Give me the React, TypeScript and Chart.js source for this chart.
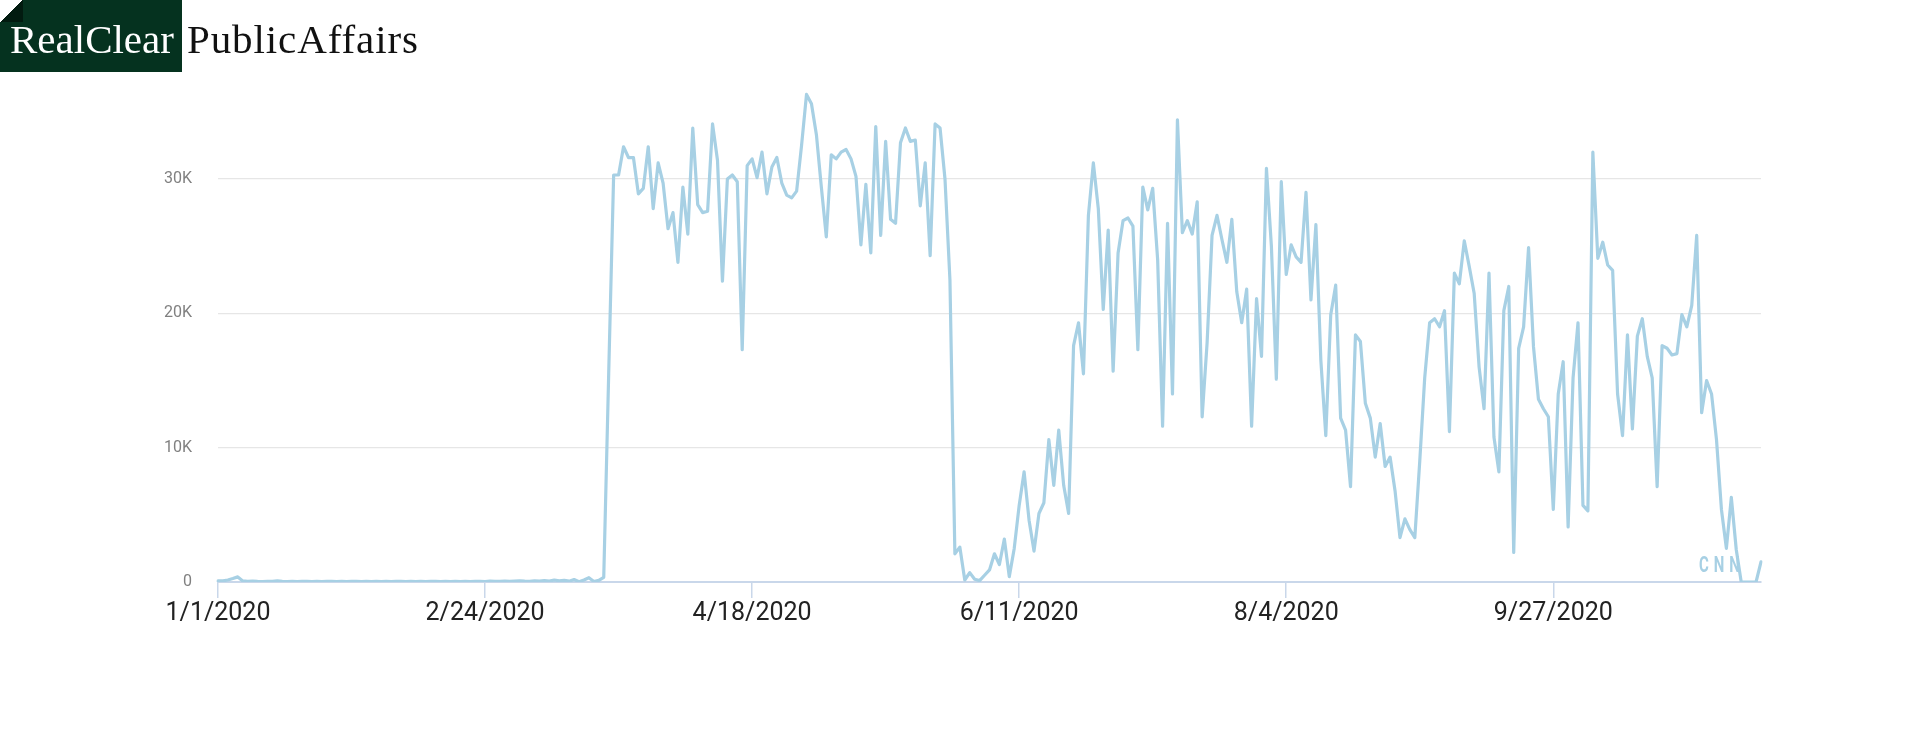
import { useEffect, useRef } from "react";
import { Chart, registerables, ChartConfiguration, Plugin } from "chart.js";

Chart.register(...registerables);

// daily CNN values, 2020
const jan = [80, 90, 150, 260, 380, 80, 40, 60, 40, 30, 50, 40, 80, 40, 30, 40, 30, 50, 40, 30, 40, 30, 50, 40, 30, 40, 30, 40, 50, 30, 40];
const feb = [30, 40, 30, 40, 30, 50, 40, 30, 40, 30, 40, 30, 40, 50, 30, 40, 30, 40, 30, 40, 30, 50, 40, 30, 60, 40, 50, 60, 40];
const mar = [70, 90, 60, 40, 80, 60, 100, 70, 150, 90, 130, 60, 180, 20, 150, 320, 40, 120, 350, 15500, 30300, 30300, 32400, 31600, 31600, 28900, 29300, 32400, 27800, 31200, 29700];
const apr = [26300, 27500, 23800, 29400, 25900, 33800, 28100, 27500, 27600, 34100, 31400, 22400, 30000, 30300, 29800, 17300, 31000, 31500, 30100, 32000, 28900, 30900, 31600, 29700, 28800, 28600, 29100, 32500, 36300, 35600];
const may = [33300, 29400, 25700, 31800, 31500, 32000, 32200, 31500, 30200, 25100, 29600, 24500, 33900, 25800, 32800, 27000, 26700, 32700, 33800, 32800, 32900, 28000, 31200, 24300, 34100, 33800, 30000, 22500, 2100, 2600, 150];
const jun = [700, 200, 100, 500, 900, 2100, 1300, 3200, 400, 2500, 5700, 8200, 4600, 2300, 5100, 5900, 10600, 7200, 11300, 7200, 5100, 17600, 19300, 15500, 27300, 31200, 27800, 20300, 26200, 15700];
const jul = [24500, 26900, 27100, 26500, 17300, 29400, 27700, 29300, 24000, 11600, 26700, 14000, 34400, 26000, 26900, 25900, 28300, 12300, 17800, 25800, 27300, 25500, 23800, 27000, 21600, 19300, 21800, 11600, 21100, 16800, 30800];
const aug = [25000, 15100, 29800, 22900, 25100, 24200, 23800, 29000, 21000, 26600, 16500, 10900, 19900, 22100, 12200, 11300, 7100, 18400, 17900, 13300, 12200, 9300, 11800, 8600, 9300, 6800, 3300, 4700, 3900, 3300, 9000];
const sep = [15200, 19300, 19600, 19000, 20200, 11200, 23000, 22200, 25400, 23500, 21500, 16000, 12900, 23000, 10800, 8200, 20200, 22000, 2200, 17400, 19000, 24900, 17500, 13600, 12900, 12300, 5400, 14000, 16400, 4100];
const oct = [15200, 19300, 5700, 5300, 32000, 24100, 25300, 23600, 23200, 14000, 10900, 18400, 11400, 18300, 19600, 16800, 15200, 7100, 17600, 17400, 16900, 17000, 19900, 19000, 20600, 25800, 12600, 15000, 14000, 10600, 5400];
const nov = [2500, 6300, 2400, 0, 0, 0, 0, 1500];

const seriesName = "CNN";
const values = [...jan, ...feb, ...mar, ...apr, ...may, ...jun, ...jul, ...aug, ...sep, ...oct, ...nov];
const startDate = Date.UTC(2020, 0, 1);
const dayLabels = values.map((_, i) => {
  const d = new Date(startDate + i * 86400000);
  return `${d.getUTCMonth() + 1}/${d.getUTCDate()}/${d.getUTCFullYear()}`;
});
const labelEvery = 54;
const yTicks = [0, 10000, 20000, 30000];

const lineColor = "#a7d0e4";

// condensed, letter-spaced series name in the bottom right corner of the plot
const seriesLabel: Plugin<"line"> = {
  id: "seriesLabel",
  afterDatasetsDraw(chart) {
    const { ctx, chartArea } = chart;
    const squeeze = 0.68;
    ctx.save();
    ctx.translate(chartArea.right - 62, chartArea.bottom - 10);
    ctx.scale(squeeze, 1);
    ctx.font = "bold 22px Roboto";
    ctx.fillStyle = lineColor;
    ctx.textAlign = "left";
    ctx.textBaseline = "alphabetic";
    let x = 0;
    for (const ch of seriesName) {
      ctx.fillText(ch, x, 0);
      x += ctx.measureText(ch).width + 5 / squeeze;
    }
    ctx.restore();
  },
};

const ViewsChart = () => {
  const canvasRef = useRef<HTMLCanvasElement>(null);

  useEffect(() => {
    if (!canvasRef.current) return;
    const ctx = canvasRef.current.getContext("2d");
    if (!ctx) return;

    const config: ChartConfiguration<"line"> = {
      type: "line",
      data: {
        labels: dayLabels,
        datasets: [
          {
            label: seriesName,
            data: values,
            borderColor: lineColor,
            borderWidth: 3.2,
            pointRadius: 0,
            tension: 0,
            borderJoinStyle: "round",
            borderCapStyle: "round",
          },
        ],
      },
      options: {
        responsive: false,
        animation: false,
        layout: { padding: { left: 0, top: 85, right: 159, bottom: 98 } },
        plugins: {
          legend: { display: false },
          tooltip: { enabled: false },
        },
        scales: {
          x: {
            type: "category",
            afterBuildTicks: (axis: any) => {
              axis.ticks = axis.ticks.filter((t: any) => t.value % labelEvery === 0);
            },
            afterFit: (axis: any) => {
              axis.height = 60;
            },
            grid: {
              drawOnChartArea: false,
              drawTicks: true,
              tickLength: 16,
              color: "#c9d7ea",
              lineWidth: 1.5,
            },
            border: { display: true, color: "#c9d7ea", width: 2 },
            ticks: {
              autoSkip: false,
              maxRotation: 0,
              padding: 1,
              color: "#222",
              font: { family: "Roboto", size: 25 },
            },
          },
          y: {
            min: 0,
            max: 37000,
            afterBuildTicks: (axis: any) => {
              axis.ticks = yTicks.map((v) => ({ value: v }));
            },
            afterFit: (axis: any) => {
              axis.width = 218;
            },
            grid: { color: "#e6e6e6", lineWidth: 1.2, drawTicks: false },
            border: { display: false },
            ticks: {
              padding: 26,
              color: "#808080",
              font: { family: "Roboto", size: 16 },
              callback: (v: any) => (v === 0 ? "0" : `${v / 1000}K`),
            },
          },
        },
      },
      plugins: [seriesLabel],
    };

    const chart = new Chart(ctx, config);
    return () => {
      chart.destroy();
    };
  }, []);

  return <canvas ref={canvasRef} width={1920} height={740} style={{ display: "block" }} />;
};

export default function App() {
  return (
    <div style={{ position: "absolute", left: 0, top: 0, width: 1920, height: 740, background: "#fff", overflow: "hidden" }}>
      <ViewsChart />
      <div style={{ position: "absolute", left: 0, top: 0, width: 182, height: 72, background: "#05321f" }}>
        <div
          style={{
            position: "absolute",
            left: 0,
            top: 0,
            width: 23,
            height: 22,
            background: "linear-gradient(to bottom right, #fff 50%, #021b10 50%)",
          }}
        />
        <span
          style={{
            position: "absolute",
            left: 10,
            top: 19,
            color: "#fff",
            font: '41px "Liberation Serif", serif',
            lineHeight: "41px",
            whiteSpace: "nowrap",
          }}
        >
          RealClear
        </span>
      </div>
      <span
        style={{
          position: "absolute",
          left: 187,
          top: 19,
          color: "#111",
          font: '41px "Liberation Serif", serif',
          lineHeight: "41px",
          letterSpacing: "0.9px",
          whiteSpace: "nowrap",
        }}
      >
        PublicAffairs
      </span>
    </div>
  );
}
